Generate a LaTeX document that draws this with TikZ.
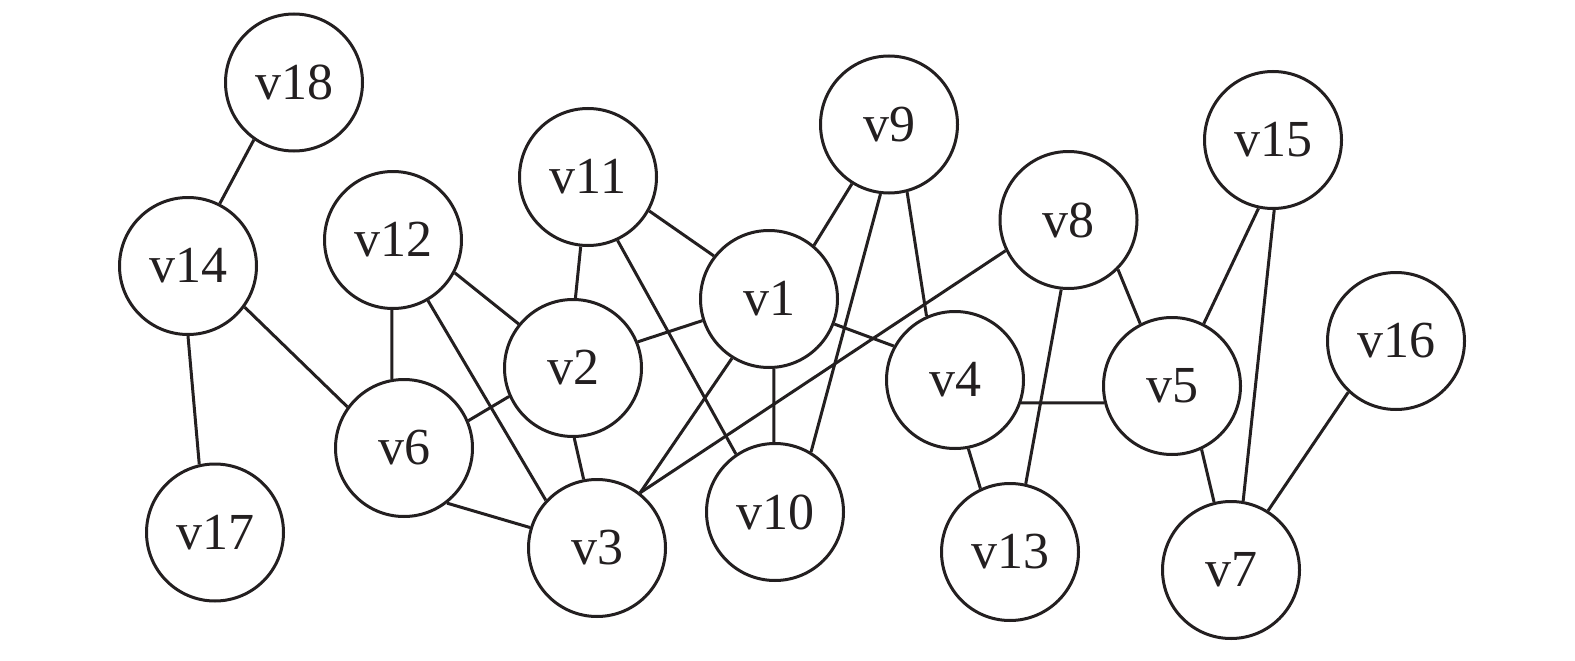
\documentclass[tikz,border=0pt]{standalone}
\usepackage{fontspec}
\setmainfont{Liberation Serif}
\definecolor{ink}{HTML}{231F20}
\begin{document}
\begin{tikzpicture}[x=1pt,y=-1pt,
  vertex/.style={circle,draw=ink,line width=3pt,minimum size=137pt,inner sep=0pt,
    text=ink,font=\fontsize{52}{62}\selectfont},
  edge/.style={draw=ink,line width=3pt}]
\useasboundingbox (0,0) rectangle (1575,661);
\node[vertex] (v18) at (294,82.5) {v18};
\node[vertex] (v14) at (188,266) {v14};
\node[vertex] (v17) at (215,532.5) {v17};
\node[vertex] (v12) at (393,240) {v12};
\node[vertex] (v6) at (404,448) {v6};
\node[vertex] (v11) at (588,177) {v11};
\node[vertex] (v2) at (573,368) {v2};
\node[vertex] (v3) at (597,548) {v3};
\node[vertex] (v1) at (769,299) {v1};
\node[vertex] (v10) at (775,512) {v10};
\node[vertex] (v9) at (889,124.5) {v9};
\node[vertex] (v8) at (1068.5,220) {v8};
\node[vertex] (v4) at (955,380) {v4};
\node[vertex] (v13) at (1010,552) {v13};
\node[vertex] (v5) at (1172,386) {v5};
\node[vertex] (v15) at (1273,140) {v15};
\node[vertex] (v16) at (1396,341) {v16};
\node[vertex] (v7) at (1231,570) {v7};
\draw[edge] (v18.-125) -- (v14.63);
\draw[edge] (v14.-36) -- (v6.144);
\draw[edge] (v14.-90) -- (v17.103);
\draw[edge] (v12.-91) -- (v6.100);
\draw[edge] (v12.-28) -- (v2.141);
\draw[edge] (v12.-60) -- (v3.137);
\draw[edge] (v11.-96) -- (v2.88);
\draw[edge] (v11.-29) -- (v1.142);
\draw[edge] (v11.-65) -- (v10.124);
\draw[edge] (v2.22) -- (v1.198);
\draw[edge] (v2.-156) -- (v6.23);
\draw[edge] (v2.-89) -- (v3.101);
\draw[edge] (v6.-52) -- (v3.163);
\draw[edge] (v1.-122) -- (v3.52);
\draw[edge] (v1.-86) -- (v10.91);
\draw[edge] (v1.50) -- (v9.-122);
\draw[edge] (v1.-21) -- (v4.151);
\draw[edge] (v9.-97) -- (v10.59);
\draw[edge] (v9.-75) -- (v4.114);
\draw[edge] (v8.-154) -- (v3.52);
\draw[edge] (v8.-45) -- (v5.117);
\draw[edge] (v8.-96) -- (v13.77);
\draw[edge] (v4.-19) -- (v5.194);
\draw[edge] (v4.-79) -- (v13.115);
\draw[edge] (v5.63) -- (v15.-102);
\draw[edge] (v5.-65) -- (v7.104);
\draw[edge] (v15.-89) -- (v7.80);
\draw[edge] (v16.-133) -- (v7.58);
\end{tikzpicture}
\end{document}
